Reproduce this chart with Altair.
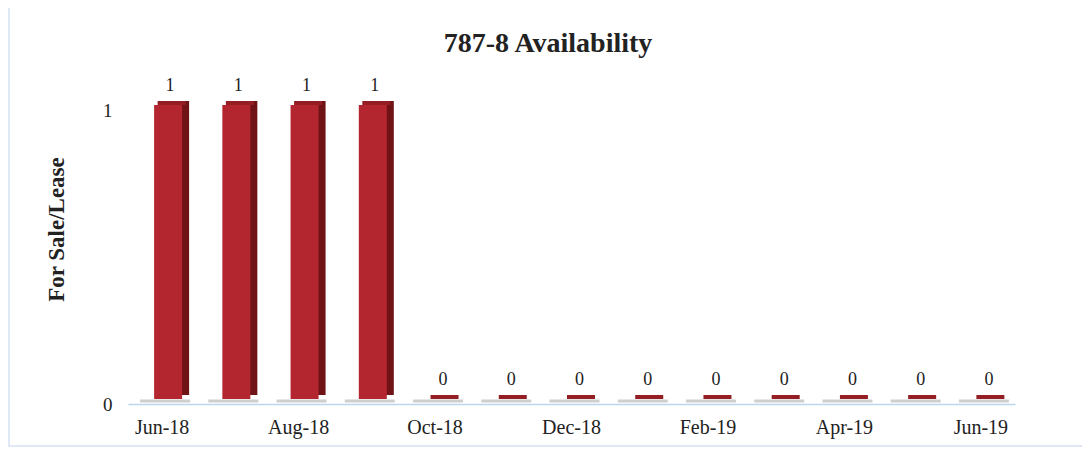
import altair as alt
import pandas as pd

title_text = "787-8 Availability"
months = ["Jun-18", "Jul-18", "Aug-18", "Sep-18", "Oct-18", "Nov-18", "Dec-18",
          "Jan-19", "Feb-19", "Mar-19", "Apr-19", "May-19", "Jun-19"]
values = [1, 1, 1, 1, 0, 0, 0, 0, 0, 0, 0, 0, 0]
shown_labels = ["Jun-18", "Aug-18", "Oct-18", "Dec-18", "Feb-19", "Apr-19", "Jun-19"]

df = pd.DataFrame({"month": months, "value": values})
FONT = "Liberation Serif"

x = alt.X("month:N", sort=months, title=None,
          scale=alt.Scale(paddingInner=0, paddingOuter=0),
          axis=alt.Axis(values=shown_labels, labelAngle=0, ticks=False,
                        domainColor="#bcd6ee", domainWidth=1.5,
                        labelFontSize=20, labelPadding=13, labelColor="#222",
                        labelFont=FONT))
y = alt.Y("value:Q", scale=alt.Scale(domain=[0, 1]),
          title="For Sale/Lease",
          axis=alt.Axis(values=[0, 1], format="d", domain=False, ticks=False, grid=False,
                        labelFontSize=19, labelPadding=16, labelColor="#222",
                        labelFont=FONT, titleFont=FONT, titleFontSize=23,
                        titleFontWeight="bold", titleColor="#222",
                        titleAngle=-90, titleX=-60, titleY=119,
                        titleAlign="center", titleBaseline="bottom"))

base = alt.Chart(df)

shadow = base.mark_tick(thickness=3, size=50, color="#cfcfcf", opacity=1,
                        xOffset=3, yOffset=-3).encode(x=x, y=alt.datum(0))
side = base.mark_bar(width=28, xOffset=13, yOffset=-9, color="#6f1317").encode(x=x, y=y)
top = base.mark_tick(thickness=4, size=28, xOffset=9.5, yOffset=-7, color="#951e24",
                     opacity=1).encode(x=x, y=alt.Y("value:Q"))
front = base.mark_bar(width=28, xOffset=6, yOffset=-5, color="#b3262f").encode(
    x=x, y=alt.Y("value:Q"))
labels = base.mark_text(font=FONT, fontSize=18, color="#222", xOffset=8, dy=-19,
                        baseline="alphabetic").encode(
    x=x, y=alt.Y("value:Q"), text="value:Q")

single = alt.Chart(pd.DataFrame({"t": [title_text]}))
border = single.mark_rect(fill=None, stroke="#d4e2f2", strokeWidth=1.5).encode(
    x=alt.value(-119), x2=alt.value(959), y=alt.value(-103), y2=alt.value(336))
title = single.mark_text(font=FONT, fontSize=28, fontWeight="bold", color="#222",
                         align="center", baseline="alphabetic").encode(
    x=alt.value(420), y=alt.value(-58), text="t:N")

chart = alt.layer(border, title, shadow, side, top, front, labels).properties(
    width=887, height=294,
    background="white",
    autosize=alt.AutoSizeParams(type="none"),
    padding={"left": 120, "top": 102, "right": 67, "bottom": 45},
).configure_view(strokeWidth=0, stroke="transparent")

chart.save("out.html", embed_options={"renderer": "svg", "actions": False})
